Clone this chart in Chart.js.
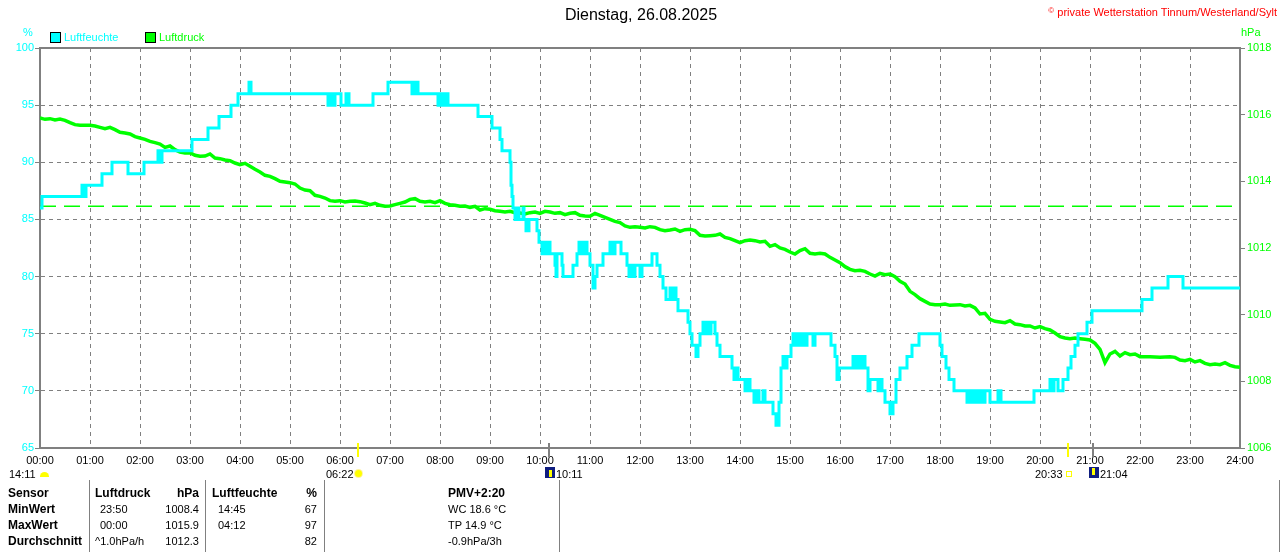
<!DOCTYPE html>
<html><head><meta charset="utf-8">
<script src="https://cdn.jsdelivr.net/npm/chart.js@4/dist/chart.umd.min.js"></script>
<style>
html,body{margin:0;padding:0;background:#fff;width:1280px;height:552px;overflow:hidden;font-family:'Liberation Sans',Arial,sans-serif;}
#wrap{position:relative;width:1280px;height:552px;}
#c{position:absolute;left:0;top:0;width:1280px;height:482px;}
.t{position:absolute;white-space:nowrap;line-height:1;font-size:11px;color:#000;}
.b{font-weight:bold;font-size:12px;}
.r{text-align:right;}
.vl{position:absolute;top:480px;height:72px;width:1px;background:#808080;}
.sq{position:absolute;width:9px;height:9px;border:1px solid #000;}
</style></head><body>
<div id="wrap">
<canvas id="c" width="1280" height="482"></canvas>
<div class="t" id="title" style="left:0;width:1282px;text-align:center;top:7px;font-size:16px;">Dienstag, 26.08.2025</div>
<div class="t" style="right:3px;top:7px;color:#FF0000;"><span style="font-size:8px;vertical-align:3px;">©</span> private Wetterstation Tinnum/Westerland/Sylt</div>
<div class="t" style="left:23px;top:27px;color:#00FFFF;">%</div>
<div class="t" style="left:1241px;top:27px;color:#00FF00;">hPa</div>
<div class="sq" style="left:50px;top:32px;background:#00FFFF;"></div>
<div class="t" style="left:64px;top:32px;color:#00FFFF;">Luftfeuchte</div>
<div class="sq" style="left:145px;top:32px;background:#00FF00;"></div>
<div class="t" style="left:159px;top:32px;color:#00FF00;">Luftdruck</div>
<!-- astro row -->
<div class="t" style="left:9px;top:469px;">14:11</div>
<div style="position:absolute;left:40px;top:472px;width:9px;height:5px;background:#FFFF00;border-radius:5px 5px 0 0;"></div>
<div class="t" style="left:326px;top:469px;">06:22</div>
<div style="position:absolute;left:355px;top:470px;width:7px;height:7px;background:#FFFF00;border-radius:50%;box-shadow:0 0 0 1px #FFF3A0;"></div>
<div style="position:absolute;left:545px;top:467px;width:10px;height:11px;background:#101E80;"></div>
<div style="position:absolute;left:549px;top:470px;width:3px;height:7px;background:#FFFF00;"></div>
<div class="t" style="left:556px;top:469px;">10:11</div>
<div class="t" style="left:1035px;top:469px;">20:33</div>
<div style="position:absolute;left:1066px;top:471px;width:4px;height:4px;border:1px solid #FFFF00;"></div>
<div style="position:absolute;left:1089px;top:467px;width:10px;height:11px;background:#101E80;"></div>
<div style="position:absolute;left:1092px;top:468px;width:3px;height:7px;background:#FFFF00;"></div>
<div class="t" style="left:1100px;top:469px;">21:04</div>
<div id="table"></div>
</div>
<script>
// ---------- data ----------
const humTimes = [0.00,0.04,0.84,0.88,0.92,1.24,1.44,1.76,2.08,2.36,2.40,2.44,3.04,3.36,3.58,3.82,3.96,4.18,4.22,5.76,5.80,5.84,5.90,6.02,6.12,6.18,6.66,6.96,7.44,7.50,7.56,7.96,8.00,8.06,8.10,8.16,8.76,9.04,9.20,9.24,9.40,9.42,9.44,9.46,9.50,9.56,9.58,9.66,9.68,9.72,9.78,9.94,9.98,10.04,10.08,10.12,10.16,10.20,10.30,10.32,10.34,10.44,10.46,10.66,10.74,10.78,10.84,10.88,10.94,11.00,11.06,11.10,11.14,11.26,11.40,11.46,11.50,11.62,11.74,11.78,11.82,11.86,11.90,12.00,12.04,12.24,12.34,12.40,12.46,12.52,12.60,12.64,12.68,12.72,12.76,12.96,13.00,13.04,13.12,13.16,13.20,13.26,13.30,13.34,13.38,13.42,13.50,13.54,13.60,13.84,13.88,13.92,13.96,14.10,14.14,14.20,14.28,14.34,14.38,14.46,14.50,14.66,14.72,14.78,14.82,14.86,14.90,14.94,15.02,15.06,15.10,15.14,15.20,15.24,15.30,15.34,15.46,15.50,15.82,15.90,15.94,15.98,16.26,16.30,16.34,16.40,16.44,16.50,16.56,16.60,16.76,16.80,16.84,16.90,17.00,17.06,17.12,17.20,17.34,17.44,17.58,18.00,18.04,18.12,18.18,18.28,18.54,18.58,18.62,18.66,18.70,18.74,18.78,18.82,18.86,18.90,19.00,19.16,19.22,19.88,20.20,20.24,20.28,20.36,20.46,20.56,20.62,20.70,20.76,20.94,21.04,22.04,22.24,22.56,22.86,24.00];
const humValues = [86,87,88,87,88,89,90,89,90,91,90,91,92,93,94,95,96,97,96,95,96,95,96,95,96,95,96,97,96,97,96,95,96,95,96,95,94,93,92,91,90,88,87,86,85,86,85,86,85,84,85,84,83,82,83,82,83,82,81,80,82,81,80,81,82,83,82,83,82,81,79,80,81,82,83,82,83,82,81,80,81,80,81,80,81,82,81,80,79,78,79,78,79,78,77,76,75,74,73,74,75,76,75,76,75,76,75,74,73,72,71,72,71,70,71,70,69,70,69,70,69,68,67,69,72,73,72,73,74,75,74,75,74,75,74,75,74,75,74,73,71,72,73,72,73,72,73,72,70,71,70,71,70,69,68,69,71,72,73,74,75,74,73,72,71,70,69,70,69,70,69,70,69,70,69,70,69,70,69,70,71,70,71,70,71,72,73,74,75,76,77,78,79,80,79,79];

const pressTimes = [0.0,0.1,0.2,0.3,0.4,0.5,0.6,0.7,0.8,0.9,1.0,1.1,1.2,1.3,1.4,1.5,1.6,1.7,1.8,1.9,2.0,2.1,2.2,2.3,2.4,2.5,2.6,2.7,2.8,2.9,3.0,3.1,3.2,3.3,3.4,3.5,3.6,3.7,3.8,3.9,4.0,4.1,4.2,4.3,4.4,4.5,4.6,4.7,4.8,4.9,5.0,5.1,5.2,5.3,5.4,5.5,5.6,5.7,5.8,5.9,6.0,6.1,6.2,6.3,6.4,6.5,6.6,6.7,6.8,6.9,7.0,7.1,7.2,7.3,7.4,7.5,7.6,7.7,7.8,7.9,8.0,8.1,8.2,8.3,8.4,8.5,8.6,8.7,8.8,8.9,9.0,9.1,9.2,9.3,9.4,9.5,9.6,9.7,9.8,9.9,10.0,10.1,10.2,10.3,10.4,10.5,10.6,10.7,10.8,10.9,11.0,11.1,11.2,11.3,11.4,11.5,11.6,11.7,11.8,11.9,12.0,12.1,12.2,12.3,12.4,12.5,12.6,12.7,12.8,12.9,13.0,13.1,13.2,13.3,13.4,13.5,13.6,13.7,13.8,13.9,14.0,14.1,14.2,14.3,14.4,14.5,14.6,14.7,14.8,14.9,15.0,15.1,15.2,15.3,15.4,15.5,15.6,15.7,15.8,15.9,16.0,16.1,16.2,16.3,16.4,16.5,16.6,16.7,16.8,16.9,17.0,17.1,17.2,17.3,17.4,17.5,17.6,17.7,17.8,17.9,18.0,18.1,18.2,18.3,18.4,18.5,18.6,18.7,18.8,18.9,19.0,19.1,19.2,19.3,19.4,19.5,19.6,19.7,19.8,19.9,20.0,20.1,20.2,20.3,20.4,20.5,20.6,20.7,20.8,20.9,21.0,21.1,21.2,21.3,21.4,21.5,21.6,21.7,21.8,21.9,22.0,22.2,22.4,22.6,22.7,22.8,22.9,23.0,23.1,23.2,23.3,23.4,23.5,23.6,23.7,23.8,23.9,24.0];
const pressValues = [1015.90,1015.86,1015.88,1015.84,1015.87,1015.83,1015.76,1015.70,1015.68,1015.68,1015.68,1015.66,1015.62,1015.58,1015.62,1015.55,1015.47,1015.45,1015.42,1015.34,1015.30,1015.26,1015.20,1015.16,1015.12,1015.02,1015.06,1014.95,1014.88,1014.85,1014.86,1014.78,1014.75,1014.76,1014.82,1014.70,1014.68,1014.64,1014.62,1014.55,1014.50,1014.54,1014.45,1014.36,1014.28,1014.18,1014.15,1014.08,1014.00,1013.98,1013.96,1013.92,1013.80,1013.74,1013.72,1013.58,1013.55,1013.50,1013.42,1013.40,1013.42,1013.38,1013.40,1013.41,1013.39,1013.35,1013.30,1013.34,1013.28,1013.25,1013.26,1013.30,1013.34,1013.38,1013.46,1013.48,1013.40,1013.38,1013.40,1013.36,1013.42,1013.34,1013.30,1013.28,1013.25,1013.26,1013.22,1013.25,1013.14,1013.18,1013.16,1013.12,1013.10,1013.08,1013.10,1013.06,1013.05,1013.02,1013.06,1013.08,1013.04,1013.10,1013.08,1013.04,1013.06,1013.00,1013.04,1013.06,1012.98,1012.96,1012.95,1013.04,1012.98,1012.92,1012.86,1012.80,1012.76,1012.66,1012.62,1012.64,1012.62,1012.60,1012.64,1012.62,1012.55,1012.52,1012.54,1012.57,1012.50,1012.55,1012.56,1012.52,1012.38,1012.36,1012.37,1012.38,1012.42,1012.32,1012.28,1012.22,1012.16,1012.22,1012.24,1012.22,1012.18,1012.20,1012.05,1012.10,1012.00,1011.96,1011.88,1011.82,1011.92,1011.98,1011.84,1011.82,1011.84,1011.82,1011.72,1011.64,1011.56,1011.44,1011.36,1011.32,1011.33,1011.30,1011.22,1011.16,1011.24,1011.20,1011.22,1011.14,1011.00,1010.92,1010.70,1010.60,1010.48,1010.40,1010.32,1010.30,1010.30,1010.32,1010.28,1010.29,1010.30,1010.26,1010.28,1010.20,1010.02,1010.04,1009.86,1009.80,1009.78,1009.76,1009.82,1009.72,1009.70,1009.66,1009.66,1009.60,1009.64,1009.58,1009.54,1009.45,1009.34,1009.30,1009.28,1009.30,1009.28,1009.26,1009.24,1009.14,1008.96,1008.56,1008.82,1008.90,1008.76,1008.86,1008.80,1008.82,1008.74,1008.74,1008.72,1008.74,1008.72,1008.64,1008.62,1008.66,1008.58,1008.62,1008.54,1008.50,1008.52,1008.50,1008.56,1008.48,1008.44,1008.42];

const standardPressure = [1013.25, 1013.25];
const standardTimes = [0, 24];

const humTicks = [65, 70, 75, 80, 85, 90, 95, 100];
const pressTicks = [1006, 1008, 1010, 1012, 1014, 1016, 1018];
const hourTicks = Array.from({length: 25}, (_, i) => i);

const eventTimes = ['06:22', '10:11', '20:33', '21:04'];
const eventKinds = ['sun', 'moon', 'sun', 'moon'];

const tableHeader = ['Sensor', 'Luftdruck', 'hPa', 'Luftfeuchte', '%', 'PMV+2:20'];
const rowLabels = ['MinWert', 'MaxWert', 'Durchschnitt'];
const pressTimeCol = ['23:50', '00:00', '^1.0hPa/h'];
const pressValCol = ['1008.4', '1015.9', '1012.3'];
const humTimeCol = ['14:45', '04:12', ''];
const humValCol = ['67', '97', '82'];
const extraCol = ['WC 18.6 °C', 'TP 14.9 °C', '-0.9hPa/3h'];

// ---------- table ----------
const tbl = document.getElementById('table');
function addText(txt, left, top, cls, right) {
  const d = document.createElement('div');
  d.className = 't ' + (cls || '');
  d.textContent = txt;
  d.style.top = top + 'px';
  if (right !== undefined) { d.style.left = (right - 100) + 'px'; d.style.width = '100px'; d.style.textAlign = 'right'; }
  else d.style.left = left + 'px';
  tbl.appendChild(d);
}
[89, 205, 324, 559, 1279].forEach(x => { const v = document.createElement('div'); v.className = 'vl'; v.style.left = x + 'px'; tbl.appendChild(v); });
const hTop = 487;
addText(tableHeader[0], 8, hTop, 'b');
addText(tableHeader[1], 95, hTop, 'b');
addText(tableHeader[2], 0, hTop, 'b', 199);
addText(tableHeader[3], 212, hTop, 'b');
addText(tableHeader[4], 0, hTop, 'b', 317);
addText(tableHeader[5], 448, hTop, 'b');
rowLabels.forEach((lab, i) => {
  const top = hTop + 16 * (i + 1);
  addText(lab, 8, top, 'b');
  addText(pressTimeCol[i], i === 2 ? 95 : 100, top + 1);
  addText(pressValCol[i], 0, top + 1, '', 199);
  addText(humTimeCol[i], 218, top + 1);
  addText(humValCol[i], 0, top + 1, '', 317);
  addText(extraCol[i], 448, top + 1);
});

// ---------- chart ----------
Chart.defaults.font.family = "'Liberation Sans', Arial, sans-serif";
const toHours = s => { const [h, m] = s.split(':').map(Number); return h + m / 60; };

const framePlugin = {
  id: 'frame',
  afterDraw(chart) {
    const { ctx, chartArea: a, scales: { x } } = chart;
    ctx.save();
    ctx.setLineDash([]);
    ctx.strokeStyle = '#808080';
    ctx.lineWidth = 2;
    ctx.beginPath();
    ctx.moveTo(a.left - 1, a.top);
    ctx.lineTo(a.right + 1, a.top);
    ctx.stroke();
    eventTimes.forEach((s, i) => {
      const px = Math.round(x.getPixelForValue(toHours(s)));
      ctx.strokeStyle = eventKinds[i] === 'sun' ? '#FFFF00' : '#808080';
      ctx.beginPath();
      ctx.moveTo(px, a.bottom - 5);
      ctx.lineTo(px, a.bottom + 9);
      ctx.stroke();
    });
    ctx.restore();
  }
};

new Chart(document.getElementById('c'), {
  type: 'line',
  data: {
    datasets: [
      {
        label: 'Luftfeuchte',
        data: humTimes.map((t, i) => ({ x: t, y: humValues[i] })),
        yAxisID: 'yH',
        borderColor: '#00FFFF',
        borderWidth: 3,
        stepped: true,
        pointRadius: 0,
        tension: 0
      },
      {
        label: 'Luftdruck',
        data: pressTimes.map((t, i) => ({ x: t, y: pressValues[i] })),
        yAxisID: 'yP',
        borderColor: '#00FF00',
        borderWidth: 3.5,
        pointRadius: 0,
        tension: 0
      },
      {
        label: 'Normaldruck',
        data: standardTimes.map((t, i) => ({ x: t, y: standardPressure[i] })),
        yAxisID: 'yP',
        borderColor: '#00FF00',
        borderWidth: 1.5,
        borderDash: [16, 8],
        pointRadius: 0
      }
    ]
  },
  options: {
    responsive: false,
    animation: false,
    devicePixelRatio: 1,
    layout: { padding: { top: 48, left: 0, right: 0, bottom: 0 } },
    plugins: { legend: { display: false }, tooltip: { enabled: false } },
    scales: {
      x: {
        type: 'linear', min: 0, max: 24,
        afterBuildTicks: s => { s.ticks = hourTicks.map(v => ({ value: v })); },
        afterFit: s => { s.height = 34; },
        ticks: {
          color: '#000', font: { size: 11 }, maxRotation: 0, autoSkip: false, padding: 6,
          callback: v => String(v).padStart(2, '0') + ':00'
        },
        grid: { color: '#808080', lineWidth: 1, drawTicks: false },
        border: { display: true, color: '#808080', width: 2, dash: [4, 4] }
      },
      yH: {
        position: 'left', min: 65, max: 100,
        afterBuildTicks: s => { s.ticks = humTicks.map(v => ({ value: v })); },
        afterFit: s => { s.width = 40; },
        ticks: { color: '#00FFFF', font: { size: 11 }, padding: 1, callback: v => String(v) },
        grid: { color: '#808080', lineWidth: 1, tickLength: 5 },
        border: { display: true, color: '#808080', width: 2, dash: [4, 4] }
      },
      yP: {
        position: 'right', min: 1006, max: 1018,
        afterBuildTicks: s => { s.ticks = pressTicks.map(v => ({ value: v })); },
        afterFit: s => { s.width = 40; },
        ticks: { color: '#00FF00', font: { size: 11 }, padding: 2, callback: v => String(v) },
        grid: { drawOnChartArea: false, color: '#808080', tickLength: 5 },
        border: { display: true, color: '#808080', width: 2 }
      }
    }
  },
  plugins: [framePlugin]
});
</script>
</body></html>
